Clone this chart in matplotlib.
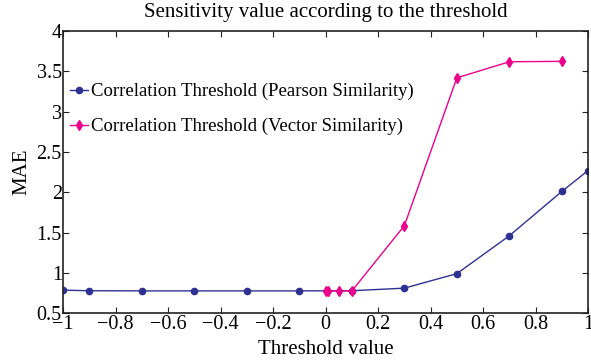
import matplotlib
matplotlib.use("Agg")
import matplotlib.pyplot as plt

# threshold values and MAE readings
pearson_x = [-1.0, -0.9, -0.7, -0.5, -0.3, -0.1, 0.1, 0.3, 0.5, 0.7, 0.9, 1.0]
pearson_mae = [0.785, 0.778, 0.776, 0.776, 0.776, 0.776, 0.778, 0.81, 0.99, 1.46, 2.01, 2.27]
vector_x = [0.0, 0.01, 0.05, 0.1, 0.3, 0.5, 0.7, 0.9]
vector_mae = [0.776, 0.776, 0.776, 0.776, 1.585, 3.42, 3.62, 3.625]

x_ticks = [-1, -0.8, -0.6, -0.4, -0.2, 0, 0.2, 0.4, 0.6, 0.8, 1]
x_labels = ["\u22121", "\u22120.8", "\u22120.6", "\u22120.4", "\u22120.2", "0", "0.2", "0.4", "0.6", "0.8", "1"]
y_ticks = [0.5, 1, 1.5, 2, 2.5, 3, 3.5, 4]
y_labels = ["0.5", "1", "1.5", "2", "2.5", "3", "3.5", "4"]

plt.rcParams['font.family'] = ['Liberation Serif', 'DejaVu Serif']
plt.rcParams['font.size'] = 14.5

fig = plt.figure(figsize=(5.91, 3.62), dpi=100)
ax = fig.add_axes([0.107, 0.135, 0.888, 0.779])

ax.plot(pearson_x, pearson_mae, color="#2e3192", marker="o", markersize=4.5, linewidth=1,
        label="Correlation Threshold (Pearson Similarity)")
ax.plot(vector_x, vector_mae, color="#ec008c", marker="d", markersize=5.5, linewidth=1,
        label="Correlation Threshold (Vector Similarity)")

ax.set_xlim(-1, 1)
ax.set_ylim(0.5, 4)
ax.set_xticks(x_ticks)
ax.set_xticklabels(x_labels)
ax.set_yticks(y_ticks)
ax.set_yticklabels(y_labels)
ax.tick_params(direction="in", top=True, right=True, length=4, pad=1, color="#222222")
for s in ax.spines.values():
    s.set_linewidth(1.2)
    s.set_color("#222222")

ax.set_title("Sensitivity value according to the threshold", fontsize=15, pad=10)
ax.set_xlabel("Threshold value", fontsize=15, labelpad=5)
ax.set_ylabel("MAE", fontsize=15, labelpad=4)

ax.legend(loc="upper left", bbox_to_anchor=(0.005, 0.83), frameon=False, fontsize=13.5,
          handlelength=1.0, handletextpad=0.15, labelspacing=0.95, borderpad=0.2,
          borderaxespad=0)

fig.savefig("out.png")
